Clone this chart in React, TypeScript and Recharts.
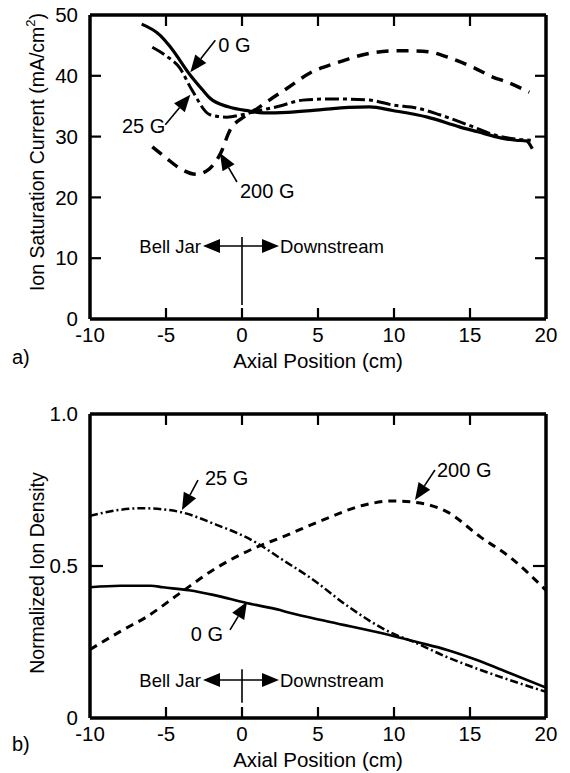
import { LineChart, Line, XAxis, YAxis, ReferenceLine, ReferenceDot, Label } from "recharts"

const FONT = "'Liberation Sans', Arial, Helvetica, sans-serif"

// a) ion saturation current (mA/cm2) vs axial position (cm)
const sat0GX = [-6.6, -5.4, -4.7, -3.4, -2.6, -2.1, -0.9, 0.5, 1.4, 3, 5.1, 7, 8.4, 9.9, 12.2, 14.3, 15.5, 17, 18, 18.7, 19.1]
const sat0GY = [48.5, 46.7, 44.7, 40.1, 37.7, 36.3, 34.9, 34.2, 33.9, 34.0, 34.4, 34.8, 34.9, 34.3, 33.2, 31.6, 30.8, 29.8, 29.4, 29.3, 28.0]
const sat25GX = [-5.9, -5.0, -4.1, -3.3, -2.1, -1.0, 0, 1, 2.3, 4, 5.8, 8.4, 9.9, 11.5, 13, 15, 17, 18, 19]
const sat25GY = [44.7, 43.3, 41.3, 37.7, 33.6, 33.2, 33.6, 34.2, 34.9, 36.0, 36.2, 36.0, 35.2, 34.7, 33.6, 31.8, 30.0, 29.6, 29.4]
const sat200GX = [-5.9, -5.0, -4.1, -3.0, -2.3, -1.4, -0.8, 0.1, 1.0, 1.8, 3.0, 4.5, 6.2, 8.4, 10, 11.3, 12.4, 13.7, 15.2, 16.5, 17.4, 18.9]
const sat200GY = [28.3, 26.5, 24.8, 23.8, 24.4, 27.3, 31.0, 33.2, 34.6, 36.0, 38.0, 40.5, 42.1, 43.7, 44.1, 44.1, 43.9, 42.9, 41.4, 39.8, 39.0, 37.3]

// b) normalized ion density vs axial position (cm)
const den0GX = [-10, -8, -6, -5.2, -3.5, -1.9, 0.3, 2.5, 3.2, 5.8, 9.7, 11.5, 13.5, 15.5, 17.6, 20]
const den0GY = [0.43, 0.435, 0.435, 0.43, 0.42, 0.405, 0.378, 0.355, 0.345, 0.316, 0.273, 0.25, 0.224, 0.19, 0.148, 0.1]
const den25GX = [-10, -8, -6.5, -4.1, -1.9, 1.0, 2.5, 4.7, 6.9, 9.7, 11.3, 13.5, 15.7, 17.6, 20]
const den25GY = [0.665, 0.685, 0.69, 0.678, 0.64, 0.575, 0.526, 0.454, 0.37, 0.283, 0.25, 0.2, 0.158, 0.125, 0.086]
const den200GX = [-10, -8, -6.3, -4.1, -1.9, 1.0, 2.5, 5.3, 8.0, 9.9, 11.3, 13.5, 15.7, 17.6, 20]
const den200GY = [0.225, 0.285, 0.332, 0.41, 0.487, 0.563, 0.592, 0.651, 0.7, 0.714, 0.71, 0.678, 0.595, 0.53, 0.42]

const xTicks = [-10, -5, 0, 5, 10, 15, 20]
const innerXTicks = [-5, 0, 5, 10, 15]
const satTicks = [0, 10, 20, 30, 40, 50]
const satInnerTicks = [10, 20, 30, 40]
const denTicks = [0, 0.5, 1]
const denInnerTicks = [0.5]

const zip = (xs: number[], ys: number[]) => xs.map((x, i) => ({ x, y: ys[i] }))

const tickFont = { fill: "#000", fontSize: 20.5, fontFamily: FONT }

const PLOT_W = 456
const PLOT_H = 304

// arrow pointing at a curve; tail offset and label offset in px from the head
const arrow = (dx: number, dy: number, text: string, tx: number, ty: number, anchor: string) => (p: any) => {
  const { cx, cy } = p
  const len = Math.hypot(dx, dy)
  const ux = -dx / len
  const uy = -dy / len
  const hl = 17
  const hw = 7
  const bx = cx - ux * hl
  const by = cy - uy * hl
  return (
    <g>
      <line x1={cx + dx} y1={cy + dy} x2={bx} y2={by} stroke="#000" strokeWidth={1.6} />
      <polygon
        points={`${cx},${cy} ${bx - uy * hw},${by + ux * hw} ${bx + uy * hw},${by - ux * hw}`}
        fill="#000"
      />
      <text x={cx + tx} y={cy + ty} textAnchor={anchor} dominantBaseline="central" fontSize={20} fontFamily={FONT}>
        {text}
      </text>
    </g>
  )
}

// "Bell Jar <-|-> Downstream" marker at x = 0, plus the inward frame ticks
// (placed from the axis values relative to this anchor point)
const bellJar = (yAt: number, yMax: number, yInner: number[], lenY: number) => (p: any) => {
  const { cx, cy } = p
  const sx = PLOT_W / 30
  const sy = PLOT_H / yMax
  const top = cy - (yMax - yAt) * sy
  const bottom = cy + yAt * sy
  const left = cx - 10 * sx
  const right = cx + 20 * sx
  const marks: any[] = []
  innerXTicks.forEach((t) => {
    const px = cx + t * sx
    marks.push(<line key={"tt" + t} x1={px} y1={top} x2={px} y2={top + 11} stroke="#000" strokeWidth={2.2} />)
    marks.push(<line key={"tb" + t} x1={px} y1={bottom} x2={px} y2={bottom - 11} stroke="#000" strokeWidth={2.2} />)
  })
  yInner.forEach((t) => {
    const py = cy - (t - yAt) * sy
    marks.push(<line key={"tl" + t} x1={left} y1={py} x2={left + lenY} y2={py} stroke="#000" strokeWidth={2.2} />)
    marks.push(<line key={"tr" + t} x1={right} y1={py} x2={right - lenY} y2={py} stroke="#000" strokeWidth={2.2} />)
  })
  return (
    <g>
      {marks}
      <line x1={cx - 24} y1={cy} x2={cx + 22} y2={cy} stroke="#000" strokeWidth={1.6} />
      <polygon points={`${cx - 39},${cy} ${cx - 22},${cy - 7} ${cx - 22},${cy + 7}`} fill="#000" />
      <polygon points={`${cx + 37},${cy} ${cx + 20},${cy - 7} ${cx + 20},${cy + 7}`} fill="#000" />
      <text x={cx - 41} y={cy} textAnchor="end" dominantBaseline="central" fontSize={18.5} fontFamily={FONT}>
        Bell Jar
      </text>
      <text x={cx + 38} y={cy} textAnchor="start" dominantBaseline="central" fontSize={18.5} fontFamily={FONT}>
        Downstream
      </text>
    </g>
  )
}

const xTitle = (props: any) => {
  const vb = props.viewBox
  return (
    <text x={vb.x + vb.width / 2} y={vb.y + 41} textAnchor="middle" dominantBaseline="central" fontSize={20.5} fontFamily={FONT}>
      Axial Position (cm)
    </text>
  )
}

const satTitle = () => (
  <text transform="translate(37,152) rotate(-90)" textAnchor="middle" dominantBaseline="central" fontSize={19.5} fontFamily={FONT}>
    Ion Saturation Current (mA/cm
    <tspan fontSize={13} dy={-7}>2</tspan>
    <tspan dy={7}>)</tspan>
  </text>
)

const denTitle = () => (
  <text transform="translate(37,173) rotate(-90)" textAnchor="middle" dominantBaseline="central" fontSize={19.5} fontFamily={FONT}>
    Normalized Ion Density
  </text>
)

export default function App() {
  return (
    <div style={{ position: "absolute", left: 0, top: 0, width: 570, height: 773, background: "#fff", overflow: "hidden" }}>
      <div style={{ position: "absolute", left: 0, top: 0 }}>
        <LineChart width={570} height={380} margin={{ top: 15, right: 24, left: 30, bottom: 21 }}>
          <XAxis
            type="number"
            dataKey="x"
            domain={[-10, 20]}
            ticks={xTicks}
            allowDataOverflow
            height={40}
            axisLine={{ stroke: "#000", strokeWidth: 3.5 }}
            tickLine={false}
            tickSize={0}
            tickMargin={8}
            tick={tickFont}
            interval={0}
          >
            <Label content={xTitle} />
          </XAxis>
          <YAxis
            type="number"
            dataKey="y"
            domain={[0, 50]}
            ticks={satTicks}
            allowDataOverflow
            width={60}
            axisLine={{ stroke: "#000", strokeWidth: 3.5 }}
            tickLine={false}
            tickSize={0}
            tickMargin={12}
            tick={tickFont}
            interval={0}
          >
            <Label content={satTitle} />
          </YAxis>
          <ReferenceLine y={50} stroke="#000" strokeWidth={3.5} ifOverflow="visible" />
          <ReferenceLine x={20} stroke="#000" strokeWidth={3.5} ifOverflow="visible" />
          <ReferenceLine segment={[{ x: 0, y: 2.3 }, { x: 0, y: 13.5 }]} stroke="#000" strokeWidth={1.6} />
          <ReferenceDot x={0} y={12} shape={bellJar(12, 50, satInnerTicks, 11)} />

          <Line data={zip(sat0GX, sat0GY)} dataKey="y" type="monotone" stroke="#000" strokeWidth={3.2} dot={false} isAnimationActive={false} />
          <Line data={zip(sat25GX, sat25GY)} dataKey="y" type="monotone" stroke="#000" strokeWidth={3} strokeDasharray="14 4 4 4" dot={false} isAnimationActive={false} />
          <Line data={zip(sat200GX, sat200GY)} dataKey="y" type="monotone" stroke="#000" strokeWidth={3.5} strokeDasharray="12 8" dot={false} isAnimationActive={false} />

          <ReferenceDot x={-3.4} y={40.6} shape={arrow(25, -32, "0 G", 28, -27, "start")} />
          <ReferenceDot x={-3.4} y={36.9} shape={arrow(-25, 30, "25 G", -25, 31, "end")} />
          <ReferenceDot x={-1.45} y={27.3} shape={arrow(17, 29, "200 G", 20, 38, "start")} />
        </LineChart>
      </div>

      <div style={{ position: "absolute", left: 0, top: 400 }}>
        <LineChart width={570} height={373} margin={{ top: 14, right: 24, left: 30, bottom: 15 }}>
          <XAxis
            type="number"
            dataKey="x"
            domain={[-10, 20]}
            ticks={xTicks}
            allowDataOverflow
            height={40}
            axisLine={{ stroke: "#000", strokeWidth: 3.5 }}
            tickLine={false}
            tickSize={0}
            tickMargin={8}
            tick={tickFont}
            interval={0}
          >
            <Label content={xTitle} />
          </XAxis>
          <YAxis
            type="number"
            dataKey="y"
            domain={[0, 1]}
            ticks={denTicks}
            tickFormatter={(v: number) => (v === 0 ? "0" : v.toFixed(1))}
            allowDataOverflow
            width={60}
            axisLine={{ stroke: "#000", strokeWidth: 3.5 }}
            tickLine={false}
            tickSize={0}
            tickMargin={12}
            tick={tickFont}
            interval={0}
          >
            <Label content={denTitle} />
          </YAxis>
          <ReferenceLine y={1} stroke="#000" strokeWidth={3.5} ifOverflow="visible" />
          <ReferenceLine x={20} stroke="#000" strokeWidth={3.5} ifOverflow="visible" />
          <ReferenceLine segment={[{ x: 0, y: 0.05 }, { x: 0, y: 0.16 }]} stroke="#000" strokeWidth={1.6} />
          <ReferenceDot x={0} y={0.125} shape={bellJar(0.125, 1, denInnerTicks, 13)} />

          <Line data={zip(den0GX, den0GY)} dataKey="y" type="monotone" stroke="#000" strokeWidth={2.6} dot={false} isAnimationActive={false} />
          <Line data={zip(den25GX, den25GY)} dataKey="y" type="monotone" stroke="#000" strokeWidth={2.5} strokeDasharray="8 3 2 3" dot={false} isAnimationActive={false} />
          <Line data={zip(den200GX, den200GY)} dataKey="y" type="monotone" stroke="#000" strokeWidth={3} strokeDasharray="8 6" dot={false} isAnimationActive={false} />

          <ReferenceDot x={-3.95} y={0.684} shape={arrow(16, -30, "25 G", 23, -32, "start")} />
          <ReferenceDot x={11.38} y={0.717} shape={arrow(20, -30, "200 G", 22, -30, "start")} />
          <ReferenceDot x={0.33} y={0.382} shape={arrow(-17, 28, "0 G", -24, 32, "end")} />
        </LineChart>
      </div>

      <div style={{ position: "absolute", left: 12, top: 346, fontFamily: FONT, fontSize: 20 }}>a)</div>
      <div style={{ position: "absolute", left: 12, top: 733, fontFamily: FONT, fontSize: 20 }}>b)</div>
    </div>
  )
}
